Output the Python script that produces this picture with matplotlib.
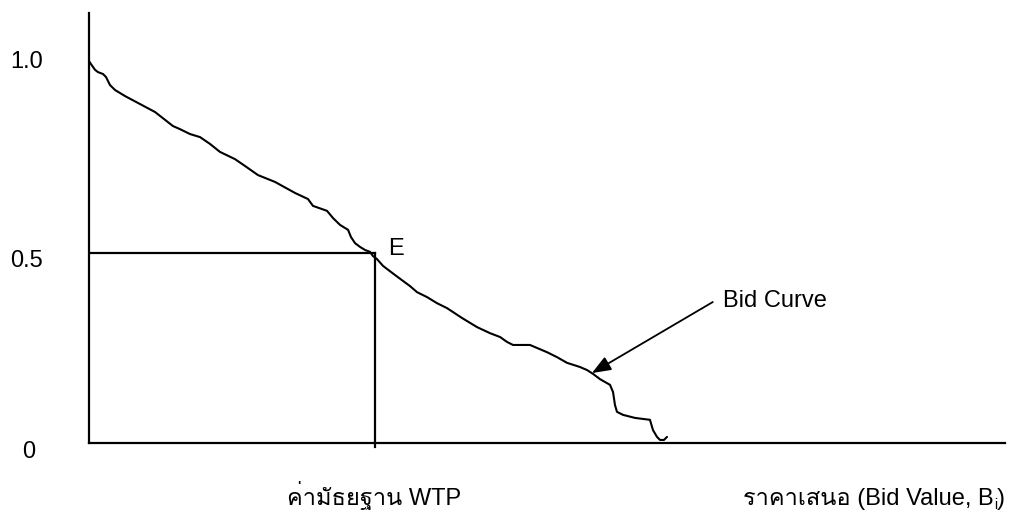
import matplotlib
matplotlib.use("Agg")
import matplotlib.pyplot as plt
from matplotlib import font_manager
from matplotlib.ft2font import FT2Font

# Bid curve readings (bid value in arbitrary units, probability of acceptance)
bid_x = [0.000, 0.022, 0.066, 0.098, 0.153, 0.186, 0.229, 0.284, 0.393, 0.557,
         0.721, 0.917, 0.993, 1.103, 1.212, 1.321, 1.430, 1.594, 1.703, 1.845,
         2.031, 2.249, 2.391, 2.445, 2.598, 2.664, 2.740, 2.828, 2.860, 2.904,
         2.959, 3.013, 3.068, 3.100, 3.144, 3.210, 3.341, 3.504, 3.581, 3.690,
         3.799, 3.908, 4.072, 4.236, 4.378, 4.487, 4.563, 4.629, 4.814, 5.000,
         5.109, 5.218, 5.360, 5.437, 5.502, 5.579, 5.688, 5.721, 5.742, 5.764,
         5.830, 5.961, 6.124, 6.157, 6.201, 6.234, 6.277, 6.310]
prob_y = [1.005, 0.997, 0.982, 0.976, 0.971, 0.963, 0.942, 0.929, 0.913, 0.892,
          0.871, 0.834, 0.826, 0.813, 0.805, 0.787, 0.766, 0.747, 0.729, 0.705,
          0.687, 0.658, 0.642, 0.624, 0.611, 0.592, 0.574, 0.561, 0.542, 0.526,
          0.516, 0.508, 0.503, 0.492, 0.484, 0.466, 0.442, 0.413, 0.397, 0.384,
          0.368, 0.355, 0.329, 0.305, 0.289, 0.279, 0.266, 0.258, 0.258, 0.239,
          0.226, 0.211, 0.200, 0.192, 0.182, 0.168, 0.153, 0.134, 0.100, 0.082,
          0.074, 0.066, 0.061, 0.034, 0.016, 0.008, 0.008, 0.016]
median_wtp = 3.122
median_prob = 0.5
arrow_tip = (5.49, 0.184)
arrow_tail = (6.81, 0.371)
ytick_labels = ["1.0", "0.5", "0"]
xlabel_median = "ค่ามัธยฐาน WTP"
xlabel_bid = ["ราคาเสนอ (Bid Value, B", "i", ")"]
curve_label = "Bid Curve"
point_label = "E"

# font with Thai glyphs (prefer Loma)
thai_fam = None
cands = []
for f in font_manager.fontManager.ttflist:
    try:
        if 0x0E04 in FT2Font(f.fname).get_charmap():
            cands.append(f.name)
    except Exception:
        pass
if cands:
    thai_fam = "Loma" if "Loma" in cands else cands[0]
fams = ["Liberation Sans"] + ([thai_fam] if thai_fam else []) + ["DejaVu Sans"]
plt.rcParams['font.family'] = fams

W, H = 1018, 516
FS = 17
fig = plt.figure(figsize=(W / 100, H / 100), dpi=100)
x0, y0, x1, y1 = 89, 443, 1005, 13
ax = fig.add_axes([x0 / W, (H - y0) / H, (x1 - x0) / W, (y0 - y1) / H])
ax.set_xlim(0, (x1 - x0) / 91.6)
ax.set_ylim(0, (y0 - y1) / 380.0)
for s in ["top", "right"]:
    ax.spines[s].set_visible(False)
for s in ["left", "bottom"]:
    ax.spines[s].set_linewidth(1.6)
ax.set_xticks([])
ax.set_yticks([])

ax.plot(bid_x, prob_y, color="black", lw=1.5, solid_joinstyle="round", solid_capstyle="round")
ax.plot([0, median_wtp], [median_prob, median_prob], color="black", lw=1.6)
ax.plot([median_wtp, median_wtp], [median_prob, -0.01], color="black", lw=1.6, clip_on=False)

ax.annotate("", xy=arrow_tip, xytext=arrow_tail,
            arrowprops=dict(arrowstyle="-|>,head_length=1.15,head_width=0.45",
                            mutation_scale=10, color="black", lw=1.3,
                            shrinkA=0, shrinkB=0))


def ftext(px, py, s, **kw):
    return fig.text(px / W, 1 - py / H, s, va="baseline", ha="left", fontsize=FS, **kw)


# y labels (left x, baseline y in pixels)
ylab_pos = [(10, 68), (10, 267), (22, 458)]
for (px, py), lab in zip(ylab_pos, ytick_labels):
    ftext(px, py, lab)

ftext(388, 255, point_label)
ftext(723, 307, curve_label)

BASE = 505
ftext(287, BASE, xlabel_median)

# right label with subscript
fig.canvas.draw()
r = fig.canvas.get_renderer()
t1 = ftext(743, BASE, xlabel_bid[0])
bb = t1.get_window_extent(r)
t2 = fig.text(bb.x1 / W + 0.5 / W, (H - BASE - 4) / H, xlabel_bid[1], va="baseline", ha="left", fontsize=10)
bb2 = t2.get_window_extent(r)
t3 = fig.text(bb2.x1 / W, (H - BASE) / H, xlabel_bid[2], va="baseline", ha="left", fontsize=FS)

fig.savefig("out.png", dpi=100)
